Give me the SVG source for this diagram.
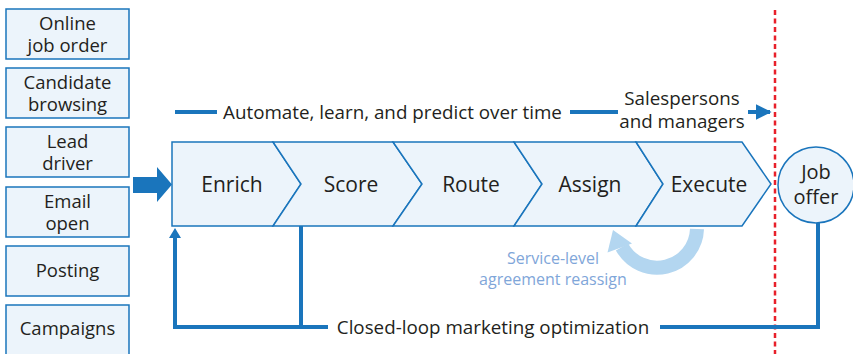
<svg xmlns="http://www.w3.org/2000/svg" width="853" height="354" viewBox="0 0 853 354">
<defs>
<style>
.box{fill:#ecf4fb;stroke:#1a75bc;stroke-width:1.5}
.t{font-family:"Open Sans","Liberation Sans",sans-serif;fill:#231f20;text-anchor:middle}
.src{font-size:18.5px}
.job{font-size:20px}
.step{font-size:21px}
.lbl{font-size:18.8px}
.ln{stroke:#1a75bc;stroke-width:4;fill:none}
.sla{font-family:"Open Sans","Liberation Sans",sans-serif;fill:#7fa6d9;font-size:16px;text-anchor:middle}
</style>
<marker id="ah" viewBox="0 0 10 10" refX="9" refY="5" markerWidth="4" markerHeight="4" orient="auto" markerUnits="strokeWidth">
<path d="M0,0 L10,5 L0,10 Z" fill="#1a75bc"/>
</marker>
</defs>
<rect width="853" height="354" fill="#ffffff"/>

<g id="src-online"><rect class="box" x="6" y="9" width="123" height="50"/><text class="t src" x="67.5" y="29.5">Online</text><text class="t src" x="67.5" y="52">job order</text></g>
<g id="src-candidate"><rect class="box" x="6" y="68" width="123" height="50"/><text class="t src" x="67.5" y="88.5">Candidate</text><text class="t src" x="67.5" y="111">browsing</text></g>
<g id="src-lead"><rect class="box" x="6" y="127" width="123" height="50"/><text class="t src" x="67.5" y="147.5">Lead</text><text class="t src" x="67.5" y="170">driver</text></g>
<g id="src-email"><rect class="box" x="6" y="187" width="123" height="50"/><text class="t src" x="67.5" y="207.5">Email</text><text class="t src" x="67.5" y="230">open</text></g>
<g id="src-posting"><rect class="box" x="6" y="246" width="123" height="50"/><text class="t src" x="67.5" y="277">Posting</text></g>
<g id="src-campaigns"><rect class="box" x="6" y="305" width="123" height="55"/><text class="t src" x="67.5" y="335">Campaigns</text></g>

<g id="step-enrich"><path class="box" d="M172 142 H273 L301 184 L273 226 H172 Z"/><text class="t step" x="232" y="192">Enrich</text></g>
<g id="step-score"><path class="box" d="M273 142 H393 L422 184 L393 226 H273 L301 184 Z"/><text class="t step" x="351" y="192">Score</text></g>
<g id="step-route"><path class="box" d="M393 142 H514 L542 184 L514 226 H393 L422 184 Z"/><text class="t step" x="471" y="192">Route</text></g>
<g id="step-assign"><path class="box" d="M514 142 H636 L663 184 L636 226 H514 L542 184 Z"/><text class="t step" x="590" y="192">Assign</text></g>
<g id="step-execute"><path class="box" d="M636 142 H742 L771 184 L742 226 H636 L663 184 Z"/><text class="t step" x="709" y="192">Execute</text></g>

<g id="job-offer"><circle class="box" cx="816" cy="185" r="38" stroke-width="2"/><text class="t job" x="816" y="179">Job</text><text class="t job" x="816" y="204">offer</text></g>

<g id="connectors">
<path d="M133 177 H157 V167 L172 184.5 L157 202 V193 H133 Z" fill="#1a75bc"/>
<line class="ln" x1="175" y1="112" x2="217" y2="112"/>
<line class="ln" x1="570" y1="112" x2="618" y2="112"/>
<line class="ln" x1="748" y1="112" x2="770" y2="112" marker-end="url(#ah)"/>
<line x1="775" y1="10" x2="775" y2="354" stroke="#e8202a" stroke-width="2.5" stroke-dasharray="5 3.5"/>
<path class="ln" d="M328 327 H175 V236" />
<path d="M175 228 L169 238 H181 Z" fill="#1a75bc"/>
<line class="ln" x1="301" y1="226" x2="301" y2="327"/>
<path class="ln" d="M660 327 H818 V223"/>
<path d="M697 229 A40 40 0 0 1 622 247" stroke="#b3d6f0" stroke-width="14" fill="none"/>
<path d="M613 230 L632 243.5 L607.5 252.5 Z" fill="#b3d6f0"/>
</g>

<text class="t lbl" x="392.5" y="119">Automate, learn, and predict over time</text>
<text class="t lbl" x="682" y="105">Salespersons</text>
<text class="t lbl" x="682" y="128">and managers</text>
<text class="t lbl" x="493" y="334">Closed-loop marketing optimization</text>
<text class="sla" x="553" y="264">Service-level</text>
<text class="sla" x="553" y="285">agreement reassign</text>
</svg>
